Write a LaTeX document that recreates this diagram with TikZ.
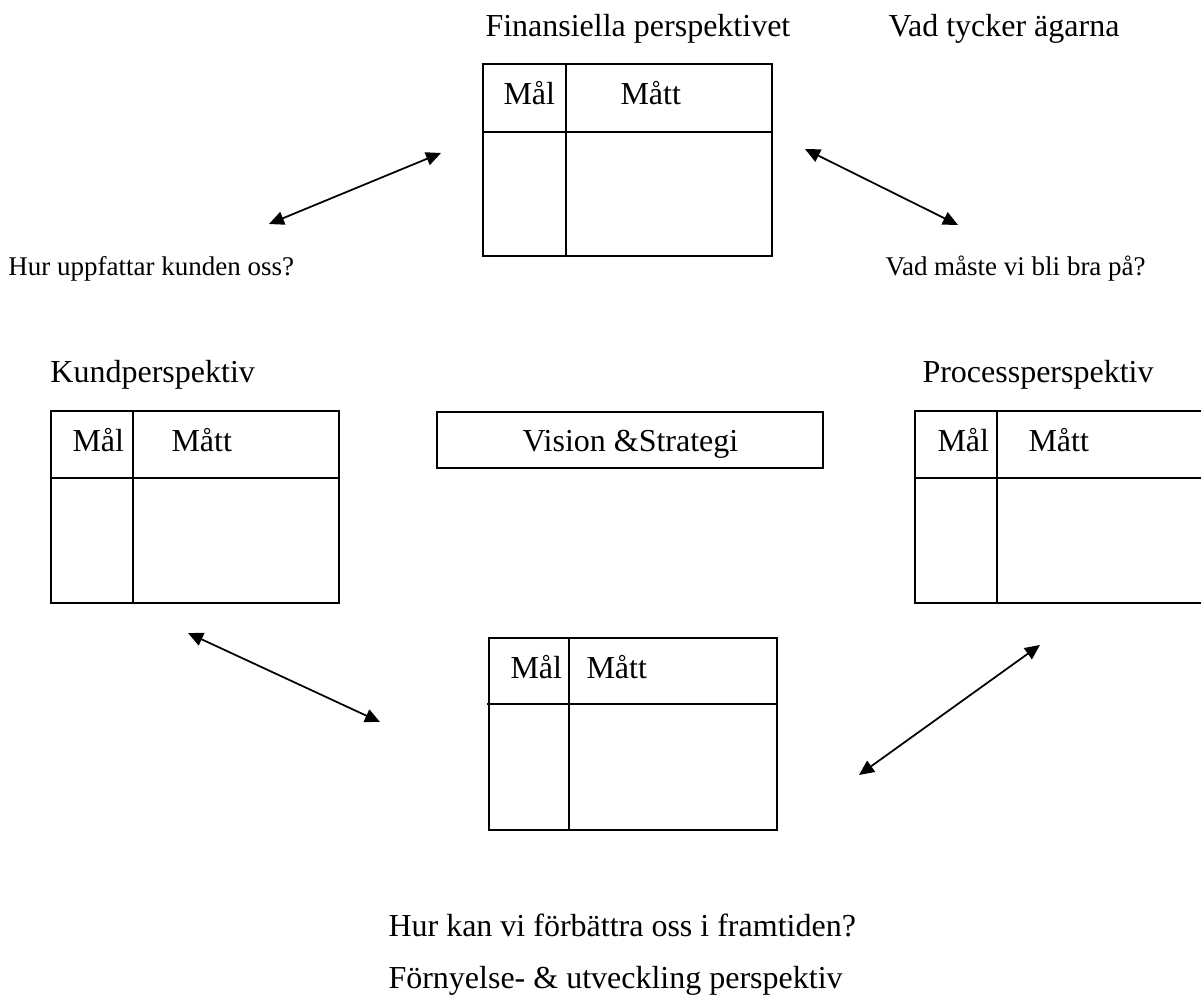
\documentclass[tikz,border=0pt]{standalone}
\usepackage{fontspec}
\setmainfont{Liberation Serif}
\usetikzlibrary{arrows.meta,fit}
\begin{document}
\begin{tikzpicture}[x=0.4pt,y=-0.4pt,
  frame/.style={draw, line width=0.8pt, inner sep=0pt},
  rule/.style={line width=0.8pt},
  lbl/.style={anchor=base west, inner sep=0pt, font=\fontsize{12.8}{15}\selectfont},
  smalllbl/.style={anchor=base west, inner sep=0pt, font=\fontsize{10.8}{13}\selectfont},
  link/.style={{Triangle[length=6pt,width=5.4pt]}-{Triangle[length=6pt,width=5.4pt]}, line width=0.7pt}]
\useasboundingbox (0,0) rectangle (1201,997);

% financial perspective (top)
\node[lbl] (tfin) at (485,37) {Finansiella perspektivet};
\node[lbl] (towners) at (888,37) {Vad tycker ägarna};
\node[frame, fit={(483,64) (772,256)}] (fin) {};
\draw[rule] (566,64) -- (566,256);
\draw[rule] (483,132) -- (772,132);
\node[lbl] (finmal) at (503,105) {Mål};
\node[lbl] (finmatt) at (620,105) {Mått};

% questions beside the top box
\node[smalllbl] (qcust) at (8,276) {Hur uppfattar kunden oss?};
\node[smalllbl] (qgood) at (885,276) {Vad måste vi bli bra på?};

% customer perspective (left)
\node[lbl] (tcust) at (50,383) {Kundperspektiv};
\node[frame, fit={(51,411) (339,603)}] (cust) {};
\draw[rule] (133,411) -- (133,603);
\draw[rule] (51,478) -- (339,478);
\node[lbl] (custmal) at (72,452) {Mål};
\node[lbl] (custmatt) at (171,452) {Mått};

% vision and strategy (centre)
\node[frame, fit={(437,412) (823,468)}] (vision) {};
\node[lbl] (tvision) at (522,452) {Vision \&Strategi};

% process perspective (right, running off the page edge)
\node[lbl] (tproc) at (922,383) {Processperspektiv};
\node[frame, fit={(915,411) (1206,603)}] (proc) {};
\draw[rule] (997,411) -- (997,603);
\draw[rule] (915,478) -- (1206,478);
\node[lbl] (procmal) at (937,452) {Mål};
\node[lbl] (procmatt) at (1028,452) {Mått};

% renewal and development perspective (bottom)
\node[frame, fit={(489,638) (777,830)}] (dev) {};
\draw[rule] (569,638) -- (569,830);
\draw[rule] (487,704) -- (777,704);
\node[lbl] (devmal) at (510,679) {Mål};
\node[lbl] (devmatt) at (586,679) {Mått};
\node[lbl] (qdev) at (388,937) {Hur kan vi förbättra oss i framtiden?};
\node[lbl] (tdev) at (388,989) {Förnyelse- \& utveckling perspektiv};

% double-headed links
\coordinate (a1) at (269,224);
\coordinate (b1) at (441,153);
\coordinate (a2) at (805,149);
\coordinate (b2) at (958,225);
\coordinate (a3) at (188,633);
\coordinate (b3) at (380,722);
\coordinate (a4) at (859,775);
\coordinate (b4) at (1040,645);
\draw[link] (a1) -- (b1);
\draw[link] (a2) -- (b2);
\draw[link] (a3) -- (b3);
\draw[link] (a4) -- (b4);
\end{tikzpicture}
\end{document}
